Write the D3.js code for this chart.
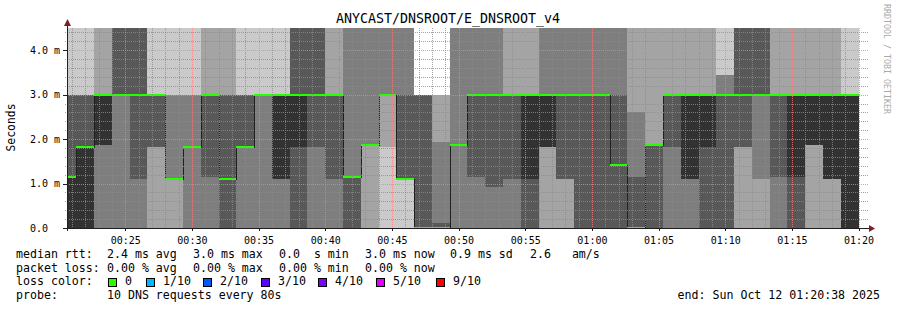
<!DOCTYPE html>
<html>
<head>
<meta charset="utf-8">
<script src="https://cdn.jsdelivr.net/npm/d3@7"></script>
<style>
  body { margin: 0; background: #fff; }
  svg { display: block; }
  text { font-family: "DejaVu Sans Mono", monospace; fill: #000; }
</style>
</head>
<body>
<div id="chart"></div>
<script>
// values above the graph top (4.5 ms) get clipped, like rrdtool does
const T = 5.0;

// sorted ping times (ms) per 80s step, ping1 = fastest .. ping10 = slowest
const ping1  = [0,0,0,0,0,0,0,0,0,0,0,0,0,0,0,0,0,0,0,0,0,0,0,0,0,0,0,0,0,0,0,0,0,0,0,0,0,0,0,0,0,0,0,0,0];
const ping2  = [0,0,0,0,0,0,0,0,0,0,0,0,0,0,0,0,0,0,1.82,1.1,0,0,0,0,0,0,0,0,0,0,0,0,0,0,0,0,0,0,0,0,0,0,0,0,0];
const ping3  = [0,0,0,0,0,1.82,1.1,0,0,0,0,0,0,0,0,0,0,1.87,3,1.1,0,0,0,0,0,0,0,1.82,1.1,0,0,0,0,0,0,0,0,0,1.82,1.1,0,0,1.87,1.1,0];
const ping4  = [0,0,1.87,3,1.1,1.82,1.1,1.83,1.15,0,1.83,3,1.1,0,1.82,1.1,0,1.87,3,1.1,0,0,1.87,1.15,0.93,1.1,0,1.82,1.1,0,0,0,0,0,1.82,1.1,0,0,1.82,3,1.15,0,1.87,1.1,0];
const ping5  = [0,0,1.87,3,3,3,1.1,1.83,3,1.1,1.83,3,1.1,1.82,3,3,1.15,1.87,3,1.1,0,0,1.87,3,3,3,1.1,1.82,3,3,3,1.42,0,1.87,3,1.1,1.82,3,3,3,3,1.15,1.87,1.1,0];
const ping6  = [1.15,1.83,3,3,3,3,1.1,1.83,3,1.1,1.83,3,3,3,3,3,1.15,1.87,3,1.1,0,0,1.87,3,3,3,3,3,3,3,3,1.42,0,1.87,3,3,3,3,3,3,3,3,3,3,3];
const ping7  = [3,3,3,T,T,3,1.1,1.83,3,3,3,3,3,T,T,3,1.15,1.87,3,3,3,0.11,1.87,3,3,3,3,3,3,3,3,3,1.14,1.87,3,3,3,3,T,T,3,3,3,3,3];
const ping8  = [3,3,3,T,T,3,3,3,3,3,3,3,3,T,T,3,T,T,T,T,3,1.94,T,T,T,3,3,T,T,T,T,T,2.61,1.87,3,3,3,3.45,T,T,3,3,3,3,3];
const ping9  = [3,3,T,T,T,3,3,3,T,T,3,3,3,T,T,T,T,T,T,T,3,3,T,T,T,T,T,T,T,T,T,T,T,T,T,T,T,3.45,T,T,T,T,T,T,3];
const ping10 = [T,T,T,T,T,T,T,T,T,T,T,T,T,T,T,T,T,T,T,T,3,3,T,T,T,T,T,T,T,T,T,T,T,T,T,T,T,T,T,T,T,T,T,T,T];
const median = [1.15,1.83,3,3,3,3,1.1,1.83,3,1.1,1.83,3,3,3,3,3,1.15,1.87,3,1.1,0,0,1.87,3,3,3,3,3,3,3,3,1.42,0,1.87,3,3,3,3,3,3,3,3,3,3,3];
const loss   = [0,0,0,0,0,0,0,0,0,0,0,0,0,0,0,0,0,0,0,0,0,0,0,0,0,0,0,0,0,0,0,0,0,0,0,0,0,0,0,0,0,0,0,0,0];

const step = 80; // seconds
const firstStep = new Date(Date.UTC(2025, 9, 12, 0, 20, 0));
const graphStart = new Date(Date.UTC(2025, 9, 12, 0, 20, 38));
const graphEnd = new Date(Date.UTC(2025, 9, 12, 1, 20, 38));
const times = ping1.map((d, i) => d3.utcSecond.offset(firstStep, i * step));

const yTicks = [0, 1, 2, 3, 4];
const yTickLabels = ["0.0", "1.0 m", "2.0 m", "3.0 m", "4.0 m"];

const lossLabels = ["0", "1/10", "2/10", "3/10", "4/10", "5/10", "9/10"];
const lossColors = ["#26ff00", "#00b8ff", "#0059ff", "#5e00ff", "#7e00ff", "#dd00ff", "#ff0000"];
const lossBoxX = [108, 146, 203, 261, 318, 376, 436];

const rttStats = ["2.4 ms avg", "3.0 ms max", "0.0  s min", "3.0 ms now", "0.9 ms sd", "2.6   am/s"];
const lossStats = ["0.00 % avg", "0.00 % max", "0.00 % min", "0.00 % now"];
const statX = [107, 193, 279, 365, 450, 530];

const dims = { width: 897, height: 310, left: 67, right: 867, top: 28, bottom: 228 };

const svg = d3.select("#chart").append("svg")
    .attr("width", dims.width)
    .attr("height", dims.height);

svg.append("rect").attr("width", dims.width).attr("height", dims.height).attr("fill", "#fff");

const x = d3.scaleUtc().domain([graphStart, graphEnd]).range([dims.left, dims.right]);
const y = d3.scaleLinear().domain([0, 4.5]).range([dims.bottom, dims.top]);

svg.append("defs").append("clipPath").attr("id", "plotclip")
  .append("rect")
    .attr("x", dims.left).attr("y", dims.top)
    .attr("width", dims.right - dims.left).attr("height", dims.bottom - dims.top);

const plot = svg.append("g")
    .attr("clip-path", "url(#plotclip)")
    .attr("shape-rendering", "crispEdges");

const colX0 = d => Math.round(x(d));
const colX1 = d => Math.round(x(d3.utcSecond.offset(d, step)));
const px = v => Math.round(v) + 0.5;

// smoke: band ibot..itop, outer bands lighter
const pings = [ping1, ping2, ping3, ping4, ping5, ping6, ping7, ping8, ping9, ping10];
const half = pings.length / 2;
for (let ibot = 1, itop = pings.length; itop > ibot; ibot++, itop--) {
  const g = Math.floor(190 / half * (half - ibot)) + 50;
  const lo = pings[ibot - 1], hi = pings[itop - 1];
  plot.append("g").selectAll("rect")
    .data(times)
    .join("rect")
      .attr("x", colX0)
      .attr("width", d => colX1(d) - colX0(d))
      .attr("y", (d, i) => Math.round(y(hi[i])))
      .attr("height", (d, i) => Math.round(y(lo[i])) - Math.round(y(hi[i])))
      .attr("fill", d3.rgb(g, g, g));
}

// median line (dark) then loss coloured band on top
const medPts = times.map((t, i) => [colX0(t), px(y(median[i]))]);
medPts.push([colX1(times[times.length - 1]), px(y(median[median.length - 1]))]);
plot.append("path")
    .attr("d", d3.line().curve(d3.curveStepAfter)(medPts))
    .attr("fill", "none")
    .attr("stroke", "#202020")
    .attr("stroke-width", 1);

plot.append("g").selectAll("rect")
  .data(times)
  .join("rect")
    .attr("x", colX0)
    .attr("width", d => colX1(d) - colX0(d))
    .attr("y", (d, i) => Math.round(y(median[i])) - 1)
    .attr("height", 2)
    .attr("fill", (d, i) => lossColors[loss[i]]);

// grid, dotted, drawn over the smoke like rrdtool
const grid = svg.append("g");
const minorY = d3.range(0.2, 4.5, 0.2).filter(v => Math.abs(v - Math.round(v)) > 0.01);
const minorX = d3.utcMinute.every(1).range(graphStart, graphEnd).filter(d => d.getUTCMinutes() % 5 !== 0);
const majorX = d3.utcMinute.every(5).range(graphStart, graphEnd);
const gridCol = "rgba(140,140,140,0.8)";
const mgridCol = "rgba(245,128,128,0.8)";

grid.append("g").selectAll("line").data(minorY).join("line")
    .attr("x1", dims.left - 2).attr("x2", dims.right + 2)
    .attr("y1", d => px(y(d))).attr("y2", d => px(y(d)))
    .attr("stroke", gridCol).attr("stroke-dasharray", "1,1");
grid.append("g").selectAll("line").data(minorX).join("line")
    .attr("x1", d => px(x(d))).attr("x2", d => px(x(d)))
    .attr("y1", dims.top).attr("y2", dims.bottom + 2)
    .attr("stroke", gridCol).attr("stroke-dasharray", "1,1");
grid.append("g").selectAll("line").data(yTicks.slice(1)).join("line")
    .attr("x1", dims.left - 2).attr("x2", dims.right + 2)
    .attr("y1", d => px(y(d))).attr("y2", d => px(y(d)))
    .attr("stroke", mgridCol).attr("stroke-dasharray", "1,1");
grid.append("g").selectAll("line").data(majorX).join("line")
    .attr("x1", d => px(x(d))).attr("x2", d => px(x(d)))
    .attr("y1", dims.top).attr("y2", dims.bottom + 2)
    .attr("stroke", mgridCol).attr("stroke-dasharray", "1,1");

// axes
svg.append("g")
    .attr("transform", `translate(${dims.left},0)`)
    .call(d3.axisLeft(y).tickValues(yTicks).tickFormat((d, i) => yTickLabels[i]).tickSize(4).tickPadding(3))
    .call(g => g.select(".domain").remove())
    .call(g => g.selectAll(".tick line").attr("stroke", "#1f1f1f").attr("shape-rendering", "crispEdges"))
    .call(g => g.selectAll(".tick text")
        .attr("text-anchor", "start").attr("x", 30 - dims.left)
        .attr("font-size", "10px").attr("font-family", "DejaVu Sans Mono"));

svg.append("g")
    .attr("transform", `translate(0,${dims.bottom})`)
    .call(d3.axisBottom(x).ticks(d3.utcMinute.every(5)).tickFormat(d3.utcFormat("%H:%M")).tickSize(3).tickPadding(6))
    .call(g => g.select(".domain").remove())
    .call(g => g.selectAll(".tick line").attr("stroke", "#1f1f1f").attr("shape-rendering", "crispEdges"))
    .call(g => g.selectAll(".tick text").attr("font-size", "10px").attr("font-family", "DejaVu Sans Mono"));

svg.append("line")
    .attr("x1", dims.left + 0.5).attr("x2", dims.left + 0.5)
    .attr("y1", dims.bottom + 3).attr("y2", dims.top - 5)
    .attr("stroke", "#1f1f1f").attr("shape-rendering", "crispEdges");
svg.append("line")
    .attr("x1", dims.left - 4).attr("x2", dims.right + 5)
    .attr("y1", dims.bottom + 0.5).attr("y2", dims.bottom + 0.5)
    .attr("stroke", "#1f1f1f").attr("shape-rendering", "crispEdges");
svg.append("path")
    .attr("d", `M${dims.left - 3},${dims.top - 2}L${dims.left + 4},${dims.top - 2}L${dims.left + 0.5},${dims.top - 9}Z`)
    .attr("fill", "#801f1f");
svg.append("path")
    .attr("d", `M${dims.right + 2},${dims.bottom - 3}L${dims.right + 2},${dims.bottom + 4}L${dims.right + 8},${dims.bottom + 0.5}Z`)
    .attr("fill", "#801f1f");

// titles
svg.append("text")
    .attr("x", 448).attr("y", 23)
    .attr("text-anchor", "middle")
    .attr("font-size", "13.3px")
    .text("ANYCAST/DNSROOT/E_DNSROOT_v4");

svg.append("text")
    .attr("transform", "translate(15,127.5) rotate(-90)")
    .attr("text-anchor", "middle")
    .attr("font-size", "11.4px")
    .text("Seconds");

svg.append("text")
    .attr("transform", "translate(884,4) rotate(90)")
    .attr("text-anchor", "start")
    .attr("font-size", "8.3px")
    .style("fill", "#aaaaaa")
    .text("RRDTOOL / TOBI OETIKER");

// legend
const legend = svg.append("g").attr("font-size", "11.6px");
const rows = [257.7, 271.5, 285.3, 299];
legend.append("text").attr("x", 16).attr("y", rows[0]).text("median rtt:");
legend.append("text").attr("x", 16).attr("y", rows[1]).text("packet loss:");
legend.append("text").attr("x", 16).attr("y", rows[2]).text("loss color:");
legend.append("text").attr("x", 16).attr("y", rows[3]).text("probe:");

legend.selectAll(".rtt").data(rttStats).join("text").attr("class", "rtt")
    .attr("x", (d, i) => statX[i]).attr("y", rows[0])
    .style("white-space", "pre")
    .text(d => d);
legend.selectAll(".lst").data(lossStats).join("text").attr("class", "lst")
    .attr("x", (d, i) => statX[i]).attr("y", rows[1])
    .style("white-space", "pre")
    .text(d => d);

legend.selectAll(".box").data(lossColors).join("rect").attr("class", "box")
    .attr("x", (d, i) => lossBoxX[i] + 0.5).attr("y", 278.5)
    .attr("width", 8).attr("height", 8)
    .attr("fill", d => d).attr("stroke", "#000").attr("stroke-width", 1)
    .attr("shape-rendering", "crispEdges");
legend.selectAll(".lbl").data(lossLabels).join("text").attr("class", "lbl")
    .attr("x", (d, i) => lossBoxX[i] + 17).attr("y", rows[2])
    .text(d => d);

legend.append("text").attr("x", 107).attr("y", rows[3]).text("10 DNS requests every 80s");
legend.append("text").attr("x", 880).attr("y", rows[3]).attr("text-anchor", "end")
    .text("end: Sun Oct 12 01:20:38 2025");
</script>
</body>
</html>
